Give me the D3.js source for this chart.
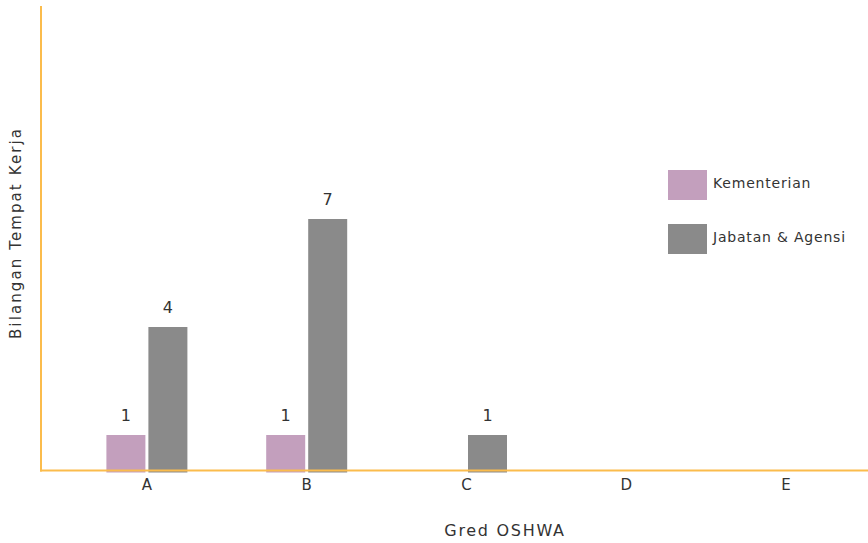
<!DOCTYPE html>
<html>
<head>
<meta charset="utf-8">
<script src="https://cdn.jsdelivr.net/npm/d3@7"></script>
<style>
  body { margin: 0; background: #fff; }
  svg { font-family: "DejaVu Sans", sans-serif; }
</style>
</head>
<body>
<div id="chart"></div>
<script>
const categories = ["A", "B", "C", "D", "E"];
const seriesNames = ["Kementerian", "Jabatan & Agensi"];
const kementerian = [1, 1, 0, 0, 0];
const jabatan = [4, 7, 1, 0, 0];
const xTitle = "Gred OSHWA";
const yTitle = "Bilangan Tempat Kerja";

const width = 868;
const height = 543;
const axisColor = "#fbbc4c";
const textColor = "#333";
const colors = ["#c39fbd", "#8a8a8a"];

const svg = d3.select("#chart").append("svg")
    .attr("width", width)
    .attr("height", height);

const data = categories.map((c, i) => ({cat: c, values: [kementerian[i], jabatan[i]]}));

const x = d3.scaleBand()
    .domain(categories)
    .range([67, 866]);

const xInner = d3.scaleBand()
    .domain(seriesNames)
    .range([-40.5, 40.5])
    .paddingInner(3 / 42);

const y = d3.scaleLinear()
    .domain([0, 13])
    .range([471, 3]);

// bars
const groups = svg.selectAll(".group")
    .data(data)
    .join("g")
    .attr("class", "group")
    .attr("transform", d => `translate(${x(d.cat) + x.bandwidth() / 2},0)`);

const bars = groups.selectAll("g.bar")
    .data(d => d.values.map((v, i) => ({series: seriesNames[i], value: v, idx: i})).filter(b => b.value > 0))
    .join("g")
    .attr("class", "bar");

bars.append("rect")
    .attr("x", d => xInner(d.series))
    .attr("y", d => y(d.value))
    .attr("width", xInner.bandwidth())
    .attr("height", d => y(0) - y(d.value) + 1.5)
    .attr("fill", d => colors[d.idx]);

bars.append("text")
    .attr("x", d => xInner(d.series) + xInner.bandwidth() / 2)
    .attr("y", d => y(d.value) - 14)
    .attr("text-anchor", "middle")
    .attr("fill", textColor)
    .style("font-size", "16px")
    .text(d => d.value);

// axes
svg.append("line")
    .attr("x1", 41).attr("x2", 41)
    .attr("y1", 6).attr("y2", 471.5)
    .attr("stroke", axisColor)
    .attr("stroke-width", 2);

svg.append("line")
    .attr("x1", 40).attr("x2", width)
    .attr("y1", 470.5).attr("y2", 470.5)
    .attr("stroke", axisColor)
    .attr("stroke-width", 2);

const xAxis = svg.append("g")
    .attr("transform", "translate(0,471)")
    .call(d3.axisBottom(x).tickSize(0).tickPadding(8));
xAxis.select(".domain").remove();
xAxis.selectAll("text")
    .attr("fill", textColor)
    .style("font-size", "15px")
    .style("font-family", "'DejaVu Sans', sans-serif");

// titles
svg.append("text")
    .attr("x", 505)
    .attr("y", 536)
    .attr("text-anchor", "middle")
    .attr("fill", textColor)
    .style("font-size", "16px")
    .style("letter-spacing", "1.7px")
    .text(xTitle);

svg.append("text")
    .attr("transform", "translate(21,233) rotate(-90)")
    .attr("text-anchor", "middle")
    .attr("fill", textColor)
    .style("font-size", "15px")
    .style("letter-spacing", "2.1px")
    .text(yTitle);

// legend
const legend = svg.selectAll(".legend")
    .data(seriesNames)
    .join("g")
    .attr("class", "legend")
    .attr("transform", (d, i) => `translate(668,${170 + i * 54})`);

legend.append("rect")
    .attr("width", 39)
    .attr("height", 30)
    .attr("fill", (d, i) => colors[i]);

legend.append("text")
    .attr("x", 45)
    .attr("y", 18)
    .attr("fill", textColor)
    .style("font-size", "14px")
    .style("letter-spacing", "0.8px")
    .text(d => d);
</script>
</body>
</html>
